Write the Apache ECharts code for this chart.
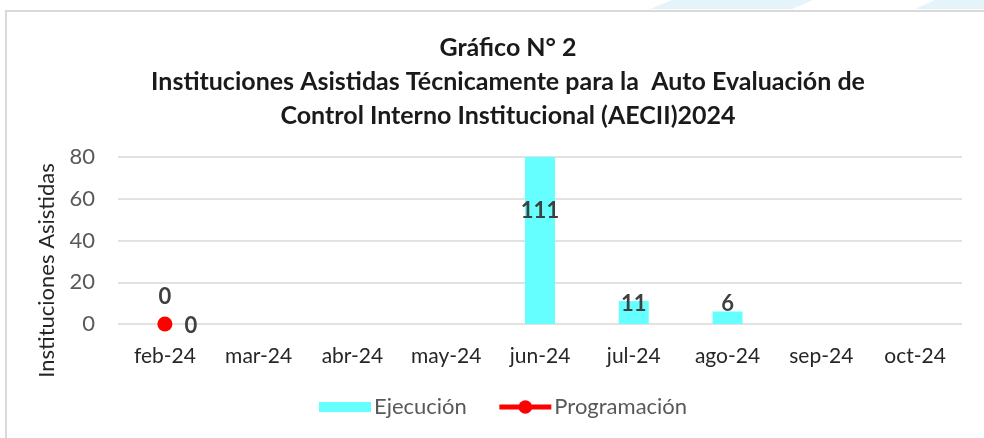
<!DOCTYPE html>
<html>
<head>
<meta charset="utf-8">
<script src="https://cdn.jsdelivr.net/npm/echarts@6/dist/echarts.min.js"></script>
<style>
  html, body { margin: 0; padding: 0; background: #fff; }
  #main { width: 984px; height: 438px; }
</style>
</head>
<body>
<div id="main"></div>
<script>
var months = ['feb-24', 'mar-24', 'abr-24', 'may-24', 'jun-24', 'jul-24', 'ago-24', 'sep-24', 'oct-24'];
var ejecucion = [0, null, null, null, 111, 11, 6, null, null];
var programacion = [0, null, null, null, null, null, null, null, null];
var yTicks = [0, 20, 40, 60, 80];

var font = 'Lato, sans-serif';

// label tweaks per bar, the way Excel placed them
var barLabelTweak = {
    0: { distance: 16 },
    4: { position: 'insideTop', distance: 43 },
    5: { distance: -14 },
    6: { distance: -3 }
};

var barData = ejecucion.map(function (v, i) {
    if (v === null) return null;
    var item = { value: v };
    if (barLabelTweak[i]) item.label = barLabelTweak[i];
    return item;
});

var chart = echarts.init(document.getElementById('main'));

chart.setOption({
    backgroundColor: '#fff',
    animation: false,
    title: {
        text: 'Gráfico N° 2\nInstituciones Asistidas Técnicamente para la  Auto Evaluación de\nControl Interno Institucional (AECII)2024',
        left: 503,
        top: 26,
        textAlign: 'center',
        textStyle: {
            fontFamily: font,
            fontWeight: 'bold',
            fontSize: 25,
            color: '#1a1a1a',
            lineHeight: 34,
            align: 'center'
        }
    },
    graphic: [
        {
            type: 'polygon',
            shape: { points: [[650, 9], [672, 0], [813, 0], [792, 9]] },
            style: { fill: '#e4f4f8' },
            silent: true
        },
        {
            type: 'polygon',
            shape: { points: [[915, 9], [935, 0], [984, 0], [984, 9]] },
            style: { fill: '#e4f4f8' },
            silent: true
        },
        {
            type: 'polyline',
            shape: { points: [[6, 440], [6, 11], [990, 11]] },
            style: { stroke: '#d9d9d9', lineWidth: 2, fill: null },
            silent: true
        }
    ],
    legend: {
        left: 319,
        top: 396,
        padding: 0,
        itemWidth: 52,
        itemHeight: 17,
        itemGap: 30,
        lineStyle: { width: 5 },
        textStyle: { fontFamily: font, fontSize: 22, color: '#595959', padding: [0, 0, 0, -2] },
        data: [
            // box icon: the hairline ends only stretch the bounds so the filled bar stays 10px tall
            { name: 'Ejecución', icon: 'path://M0,0L1,0ZM0,3.5L52,3.5L52,13.5L0,13.5ZM0,17L1,17Z' },
            { name: 'Programación', lineStyle: { width: 5 } }
        ]
    },
    grid: {
        left: 118,
        right: 22,
        top: 157,
        bottom: 114,
        containLabel: false
    },
    xAxis: {
        type: 'category',
        data: months,
        axisLine: { show: false },
        axisTick: { show: false },
        axisLabel: {
            interval: 0,
            fontFamily: font,
            fontSize: 21,
            color: '#262626',
            margin: 22
        }
    },
    yAxis: {
        type: 'value',
        min: 0,
        max: 80,
        interval: 20,
        name: 'Instituciones Asistidas',
        nameLocation: 'middle',
        nameGap: 60,
        nameRotate: 90,
        nameTextStyle: {
            fontFamily: font,
            fontSize: 22,
            color: '#262626',
            padding: [0, 60, 0, 0]
        },
        axisLine: { show: false },
        axisTick: { show: false },
        axisLabel: {
            fontFamily: font,
            fontSize: 22,
            color: '#595959',
            margin: 23,
            formatter: function (v) { return yTicks.indexOf(v) >= 0 ? v : ''; }
        },
        splitLine: { lineStyle: { color: '#d9d9d9', width: 1.5 } }
    },
    series: [
        {
            name: 'Ejecución',
            type: 'bar',
            data: barData,
            barWidth: 30,
            clip: true,
            itemStyle: { color: '#66ffff' },
            label: {
                show: true,
                position: 'top',
                fontFamily: font,
                fontWeight: 'bold',
                fontSize: 22,
                color: '#404040'
            }
        },
        {
            name: 'Programación',
            type: 'line',
            data: programacion,
            symbol: 'circle',
            symbolSize: 15,
            lineStyle: { color: '#ff0000', width: 4 },
            itemStyle: { color: '#ff0000' },
            label: {
                show: true,
                position: 'right',
                distance: 12,
                offset: [0, 2],
                fontFamily: font,
                fontWeight: 'bold',
                fontSize: 22,
                color: '#404040'
            },
            z: 5
        }
    ]
});
</script>
</body>
</html>
